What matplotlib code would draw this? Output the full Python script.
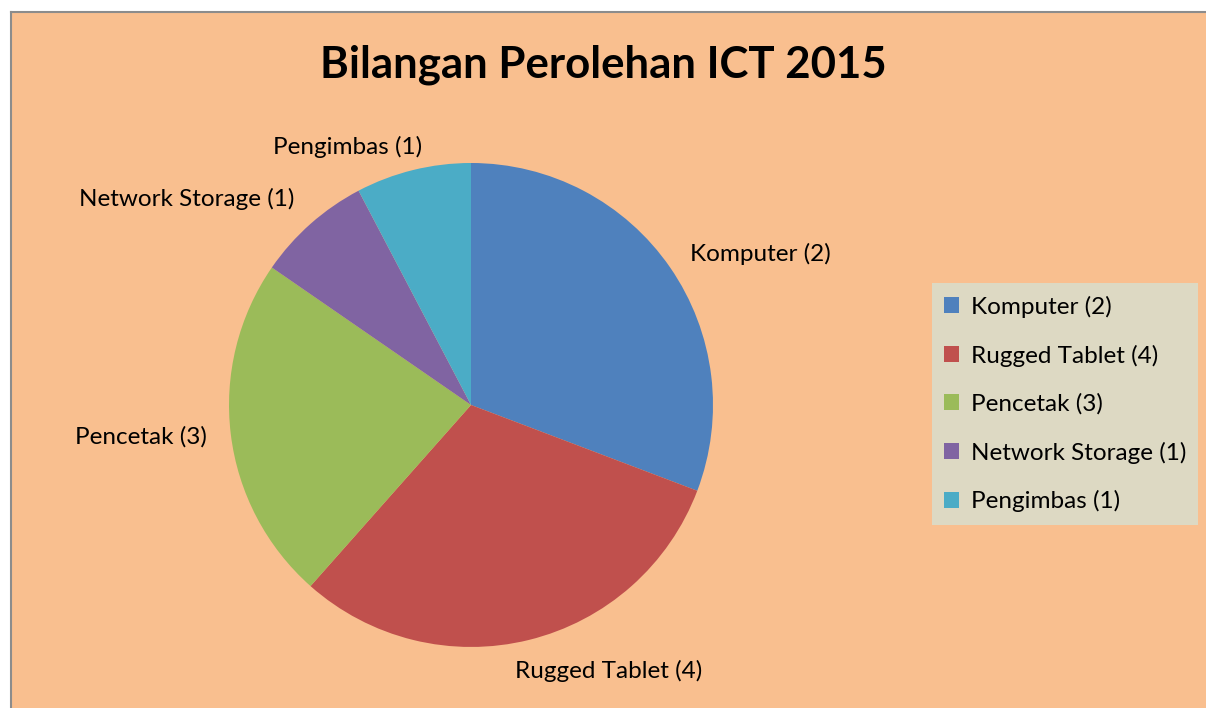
import matplotlib.pyplot as plt
from matplotlib.patches import Rectangle

plt.rcParams['font.family'] = ['Lato', 'DejaVu Sans']

categories = ['Komputer (2)', 'Rugged Tablet (4)', 'Pencetak (3)', 'Network Storage (1)', 'Pengimbas (1)']
values = [4, 4, 3, 1, 1]
colors = ['#4F81BD', '#C0504D', '#9BBB59', '#8064A2', '#4BACC6']

fig = plt.figure(figsize=(12.06, 7.08), dpi=100)
fig.patch.set_facecolor('white')

# orange chart area with grey edge on top/left only
bg = Rectangle((11 / 1206, 0), 1.0, 1 - 12 / 708, transform=fig.transFigure,
               facecolor='#F9BF8F', edgecolor='none', zorder=-1)
fig.patches.append(bg)
fig.add_artist(plt.Line2D([11 / 1206, 11 / 1206], [0, 1 - 12 / 708], transform=fig.transFigure, color='#8c8c8c', lw=1.5))
fig.add_artist(plt.Line2D([11 / 1206, 1], [1 - 12 / 708, 1 - 12 / 708], transform=fig.transFigure, color='#8c8c8c', lw=1.5))

ax = fig.add_axes([0.1899, 0.0862, 0.4013, 0.6836])
ax.set_facecolor('none')
wedges, texts = ax.pie(values, labels=categories, colors=colors, startangle=90, counterclock=False,
                       labeldistance=1.1, wedgeprops={'linewidth': 0},
                       textprops={'fontsize': 17.5, 'color': 'black'})
ax.set_xlim(-1, 1)
ax.set_ylim(-1, 1)
ax.set_aspect('equal')
for w in wedges:
    w.set_clip_on(False)

# nudge a few labels to where excel put them
nudges = {1: (-0.08, -0.03), 3: (0.0, 0.03), 4: (0.06, 0.0)}
for i, (dx, dy) in nudges.items():
    x, y = texts[i].get_position()
    texts[i].set_position((x + dx, y + dy))

fig.text(0.5, 1 - 65 / 708, 'Bilangan Perolehan ICT 2015', ha='center', va='center',
         fontsize=31.5, fontweight='bold')

leg = fig.legend(wedges, categories, loc='center', bbox_to_anchor=(1065 / 1206, 1 - 404 / 708),
                 fontsize=17.5, frameon=True, fancybox=False, handlelength=0.6, handleheight=0.6,
                 handletextpad=0.5, labelspacing=1.1, borderpad=0.5)
leg.get_frame().set_facecolor('#DDD9C3')
leg.get_frame().set_edgecolor('none')
leg.get_frame().set_alpha(1)

plt.savefig('out.png', dpi=100)
